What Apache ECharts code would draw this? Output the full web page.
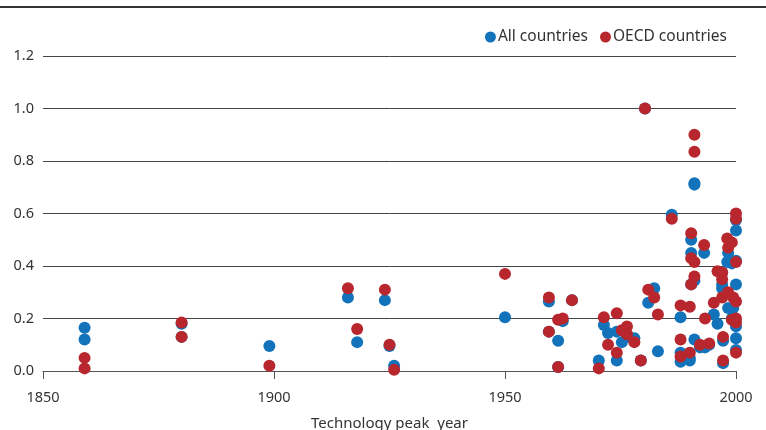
<!DOCTYPE html>
<html>
<head>
<meta charset="utf-8">
<script src="https://cdn.jsdelivr.net/npm/echarts@6/dist/echarts.min.js"></script>
<style>
  html, body { margin: 0; padding: 0; background: #fff; }
  #chart { width: 766px; height: 430px; }
</style>
</head>
<body>
<div id="chart"></div>
<script>
// technology peak year, share for all countries, share for OECD countries
const years = [
  1859, 1859, 1880, 1880, 1899, 1916, 1918, 1924, 1925, 1926,
  1950, 1959.5, 1959.5, 1961.5, 1961.5, 1962.5, 1964.5, 1970.3, 1971.4, 1972.3,
  1974.2, 1974.2, 1975.3, 1976.4, 1976.4, 1978, 1979.4, 1980.3, 1981, 1982.3,
  1983.1, 1986.1, 1988, 1988, 1988, 1990, 1990, 1990.3, 1990.3, 1990.3,
  1991, 1991, 1991, 1991, 1992.2, 1993.1, 1993.3, 1994.2, 1995.2, 1996,
  1997, 1997, 1997.2, 1997.2, 1997, 1998.1, 1998.3, 1998.3, 1999.1, 1999.4,
  1999.1, 2000, 2000, 2000, 2000, 2000, 2000, 2000
];
const allCountries = [
  0.165, 0.12, 0.18, 0.13, 0.095, 0.28, 0.11, 0.27, 0.095, 0.02,
  0.205, 0.265, 0.15, 0.115, 0.015, 0.19, 0.27, 0.04, 0.175, 0.145,
  0.15, 0.04, 0.11, 0.13, 0.14, 0.125, 0.04, 1.0, 0.26, 0.315,
  0.075, 0.595, 0.205, 0.07, 0.035, 0.04, 0.05, 0.50, 0.45, 0.33,
  0.715, 0.71, 0.345, 0.12, 0.09, 0.45, 0.09, 0.10, 0.215, 0.18,
  0.315, 0.33, 0.115, 0.03, 0.375, 0.415, 0.45, 0.24, 0.41, 0.24,
  0.20, 0.535, 0.575, 0.33, 0.17, 0.125, 0.08, 0.42
];
const oecdCountries = [
  0.05, 0.01, 0.185, 0.13, 0.02, 0.315, 0.16, 0.31, 0.10, 0.005,
  0.37, 0.28, 0.15, 0.195, 0.015, 0.20, 0.27, 0.01, 0.205, 0.10,
  0.22, 0.07, 0.155, 0.17, 0.14, 0.11, 0.04, 1.0, 0.31, 0.28,
  0.215, 0.58, 0.25, 0.12, 0.055, 0.07, 0.245, 0.525, 0.43, 0.33,
  0.90, 0.835, 0.36, 0.415, 0.10, 0.48, 0.20, 0.105, 0.26, 0.38,
  0.28, 0.35, 0.13, 0.04, 0.375, 0.505, 0.47, 0.30, 0.49, 0.28,
  0.195, 0.60, 0.58, 0.415, 0.265, 0.185, 0.07, 0.20
];
const xTicks = [1850, 1900, 1950, 2000];

const blue = '#1273bb';
const red = '#b8272d';
const font = '"Noto Sans", sans-serif';

const chart = echarts.init(document.getElementById('chart'), null, { renderer: 'canvas' });

const option = {
  animation: false,
  textStyle: { fontFamily: font },
  graphic: [
    { type: 'rect', left: 0, top: 6, shape: { width: 766, height: 2 }, style: { fill: '#333' } }
  ],
  legend: {
    right: 34,
    top: 24,
    itemGap: 12,
    itemWidth: 11,
    itemHeight: 11,
    icon: 'circle',
    textStyle: { fontSize: 15.5, color: '#333', fontFamily: font, padding: [0, 0, 0, -3] },
    data: ['All countries', 'OECD countries']
  },
  grid: { left: 43, right: 30, top: 56, bottom: 59, containLabel: false, outerBoundsMode: 'none' },
  xAxis: {
    type: 'value',
    min: xTicks[0],
    max: xTicks[xTicks.length - 1],
    interval: 50,
    name: 'Technology peak  year',
    nameLocation: 'middle',
    nameGap: 45,
    nameTextStyle: { fontSize: 15, color: '#333' },
    axisLine: { show: true, lineStyle: { color: '#555', width: 1 } },
    axisTick: { show: true, length: 8, lineStyle: { color: '#555' } },
    axisLabel: { fontSize: 14.5, color: '#333', margin: 19, formatter: v => String(v) },
    splitLine: { show: false }
  },
  yAxis: {
    type: 'value',
    min: 0,
    max: 1.2,
    interval: 0.2,
    axisLine: { show: false },
    axisTick: { show: false },
    axisLabel: { fontSize: 14.5, color: '#333', margin: 9, formatter: v => v.toFixed(1) },
    splitLine: { show: true, lineStyle: { color: '#444', width: 1 } }
  },
  series: [
    {
      name: 'All countries',
      type: 'scatter',
      symbolSize: 12,
      itemStyle: { color: blue, opacity: 1 },
      data: years.map((y, i) => [y, allCountries[i]])
    },
    {
      name: 'OECD countries',
      type: 'scatter',
      symbolSize: 12,
      itemStyle: { color: red, opacity: 1 },
      data: years.map((y, i) => [y, oecdCountries[i]])
    }
  ]
};

chart.setOption(option);
</script>
</body>
</html>
